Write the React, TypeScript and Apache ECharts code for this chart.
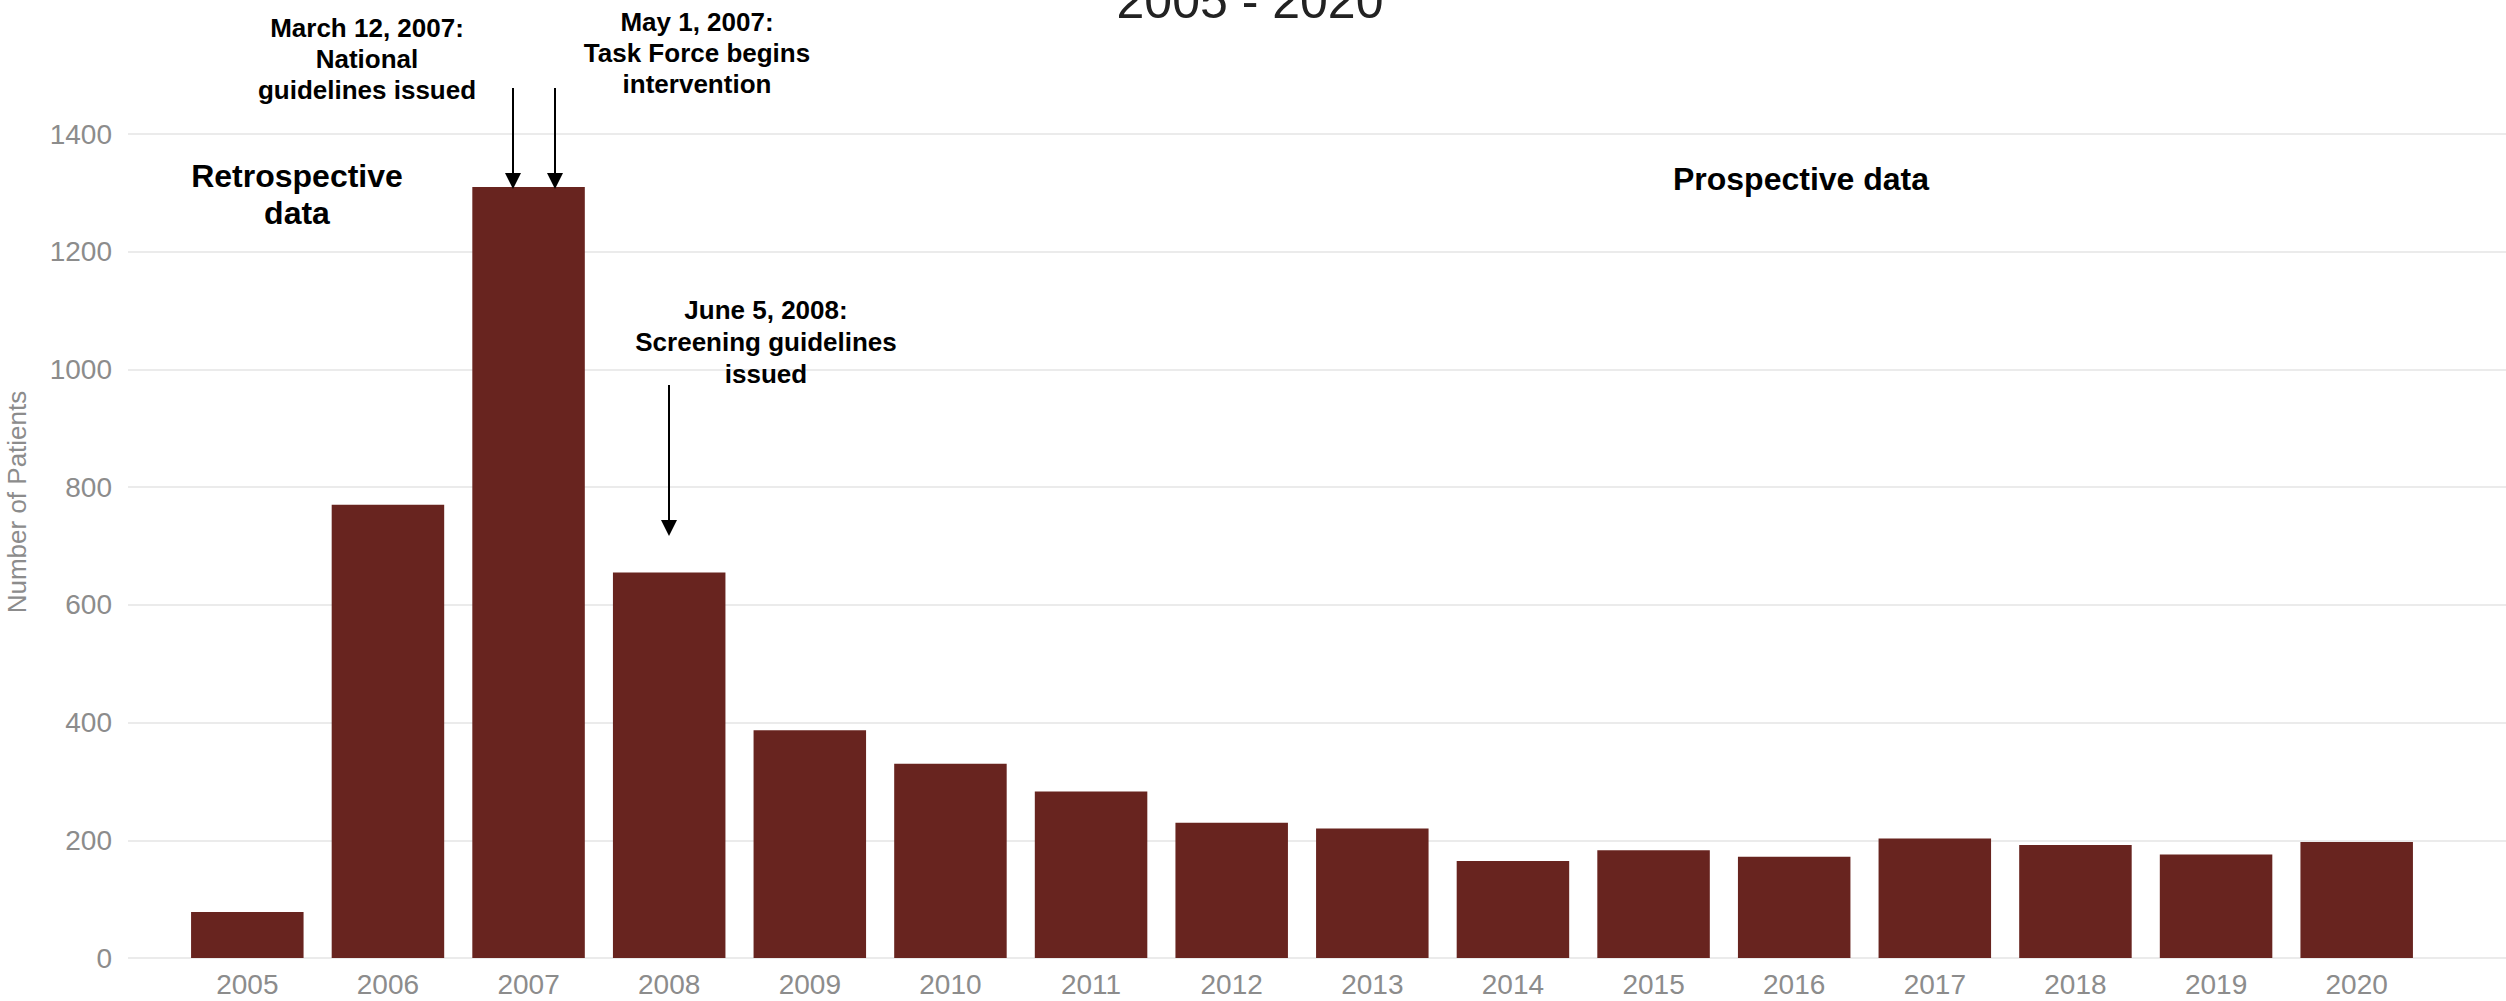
import React, { useEffect, useRef } from "react";
import * as echarts from "echarts";

const years = ["2005", "2006", "2007", "2008", "2009", "2010", "2011", "2012", "2013", "2014", "2015", "2016", "2017", "2018", "2019", "2020"];
const patients = [78, 770, 1310, 655, 387, 330, 283, 230, 220, 165, 183, 172, 203, 192, 176, 197];
const yTicks = { min: 0, max: 1400, interval: 200 };

const FONT = "Liberation Sans, Arial, sans-serif";
const GREY = "#8c8c8c";
const BAR = "#68241f";

export default function App() {
  const ref = useRef<HTMLDivElement>(null);

  useEffect(() => {
    if (!ref.current) return;
    const chart = echarts.init(ref.current, null, { renderer: "svg" });

    const annText = (x: number, y: number, text: string, fontSize: number, lineHeight: number) => ({
      type: "text",
      x,
      y,
      z: 100,
      silent: true,
      style: {
        text,
        fontSize,
        fontFamily: FONT,
        fontWeight: "bold",
        fill: "#000",
        align: "center",
        verticalAlign: "middle",
        lineHeight,
      },
    });

    const arrow = (x: number, y1: number, y2: number) => [
      { type: "line", silent: true, z: 100, shape: { x1: x, y1, x2: x, y2: y2 - 14 }, style: { stroke: "#000", lineWidth: 2 } },
      {
        type: "polygon",
        silent: true,
        z: 100,
        shape: { points: [[x - 8, y2 - 16], [x + 8, y2 - 16], [x, y2]] },
        style: { fill: "#000" },
      },
    ];

    chart.setOption({
      animation: false,
      backgroundColor: "#ffffff",
      grid: [
        { left: 128, right: 0, top: 134, bottom: 43 },
        { left: 177, right: 79, top: 134, bottom: 43 },
      ],
      xAxis: [
        { gridIndex: 0, type: "value", show: false, min: 0, max: 1 },
        {
          gridIndex: 1,
          type: "category",
          data: years,
          axisLine: { show: false },
          axisTick: { show: false },
          axisLabel: { fontSize: 28, color: GREY, margin: 12, fontFamily: FONT },
        },
      ],
      yAxis: [
        {
          gridIndex: 0,
          type: "value",
          min: yTicks.min,
          max: yTicks.max,
          interval: yTicks.interval,
          axisLine: { show: false },
          axisTick: { show: false },
          axisLabel: { fontSize: 28, color: GREY, margin: 16, fontFamily: FONT, formatter: (v: number) => String(v) },
          splitLine: { lineStyle: { color: "#ebebeb", width: 2 } },
        },
        {
          gridIndex: 1,
          type: "value",
          min: yTicks.min,
          max: yTicks.max,
          interval: yTicks.interval,
          show: false,
          splitLine: { show: false },
        },
      ],
      series: [
        {
          type: "bar",
          xAxisIndex: 1,
          yAxisIndex: 1,
          data: patients,
          barCategoryGap: "20%",
          itemStyle: { color: BAR },
        },
      ],
      graphic: [
        {
          type: "text",
          x: 1250,
          y: 1,
          silent: true,
          style: { text: "2005 - 2020", fontSize: 50, fontFamily: FONT, fill: "#222", align: "center", verticalAlign: "middle" },
        },
        {
          type: "text",
          x: 17,
          y: 502,
          rotation: Math.PI / 2,
          silent: true,
          style: { text: "Number of Patients", fontSize: 26, fontFamily: FONT, fill: GREY, align: "center", verticalAlign: "middle" },
        },
        annText(367, 59, "March 12, 2007:\nNational\nguidelines issued", 26, 31),
        annText(697, 53, "May 1, 2007:\nTask Force begins\nintervention", 26, 31),
        annText(766, 342, "June 5, 2008:\nScreening guidelines\nissued", 26, 32),
        annText(297, 194, "Retrospective\ndata", 32, 37),
        annText(1801, 179, "Prospective data", 32, 37),
        ...arrow(513, 88, 189),
        ...arrow(555, 88, 189),
        ...arrow(669, 385, 536),
      ],
    });

    return () => chart.dispose();
  }, []);

  return <div ref={ref} style={{ position: "fixed", left: 0, top: 0, width: 2506, height: 1001 }} />;
}
